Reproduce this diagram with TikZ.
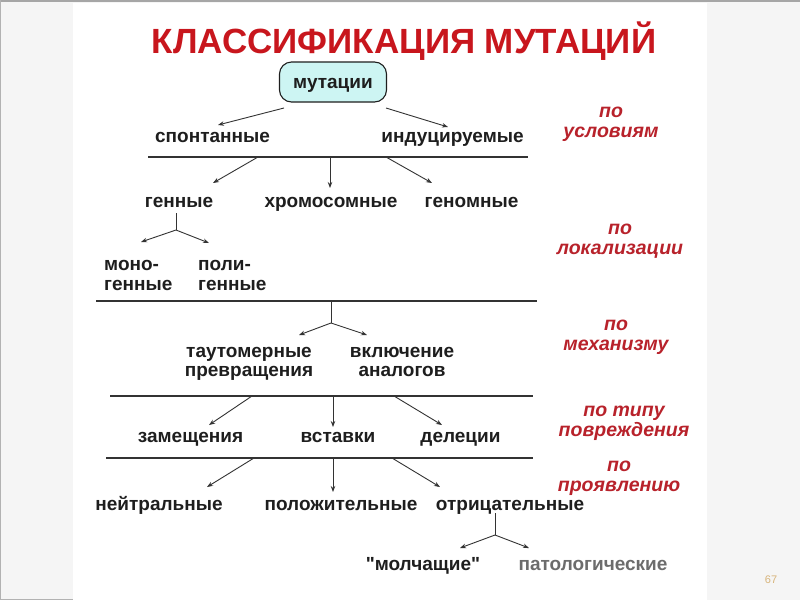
\documentclass[tikz,border=0pt]{standalone}
\usepackage{fontspec}
\setmainfont{Liberation Sans}[Ligatures=TeXOff]
\usetikzlibrary{arrows.meta}
\definecolor{titlered}{HTML}{C8161D}
\definecolor{labred}{HTML}{B8222B}
\definecolor{boxfill}{HTML}{CDF5F3}
\definecolor{ink}{HTML}{1E1E1E}
\definecolor{lineink}{HTML}{333333}
\definecolor{pagegray}{HTML}{F5F5F5}
\definecolor{numcol}{HTML}{D8B57C}
\tikzset{
  txt/.style={font=\bfseries\fontsize{19}{19}\selectfont, text=ink, inner sep=0pt, anchor=base},
  txtl/.style={font=\bfseries\fontsize{19}{20}\selectfont, text=ink, inner sep=0pt, anchor=base west, align=left},
  txtc/.style={font=\bfseries\fontsize{19}{18.5}\selectfont, text=ink, inner sep=0pt, anchor=base, align=center},
  lab/.style={font=\bfseries\itshape\fontsize{19.5}{19.5}\selectfont, text=labred, inner sep=0pt, anchor=base, align=center},
  arr/.style={draw=lineink, line width=0.9pt, -{Stealth[length=6pt,width=4.5pt]}},
  plain/.style={draw=lineink, line width=0.9pt},
  hline/.style={draw=lineink, line width=1.2pt},
  rootbox/.style={draw=ink, line width=1.1pt, fill=boxfill, rounded corners=12pt, minimum width=107pt, minimum height=40pt, inner sep=0pt, text depth=0pt, font=\bfseries\fontsize{19}{19}\selectfont, text=ink}
}
\begin{document}
\begin{tikzpicture}[x=1pt,y=-1pt]
\useasboundingbox (0,0) rectangle (800,600);
% background
\fill[pagegray] (0,0) rectangle (800,600);
\fill[white] (73,3) rectangle (707,600);
\draw[gray!70, line width=1.5pt] (0,1) -- (800,1);
\draw[gray!60, line width=1pt] (0.5,0) -- (0.5,600);
\draw[gray!60, line width=1pt] (0,599.5) -- (73,599.5);

% title
\node[font=\bfseries\fontsize{35}{38}\selectfont, text=titlered, inner sep=0pt, anchor=base] (title) at (404,53) {КЛАССИФИКАЦИЯ МУТАЦИЙ};

% root
\node[rootbox] (mut) at (333,82) {\raisebox{-2.5pt}{мутации}};

% level 1
\node[txt] (spont) at (212.5,142) {спонтанные};
\node[txt] (indu) at (452.5,142) {индуцируемые};
\coordinate (m1s) at (284,108); \coordinate (m1e) at (218,125);
\coordinate (m2s) at (386,108); \coordinate (m2e) at (448,127);
\draw[arr] (m1s) -- (m1e);
\draw[arr] (m2s) -- (m2e);

% line 1
\coordinate (L1a) at (148,157); \coordinate (L1b) at (528,157);
\draw[hline] (L1a) -- (L1b);
\coordinate (a1s) at (258,157); \coordinate (a1e) at (213,183);
\coordinate (a2s) at (330,157); \coordinate (a2e) at (330,188);
\coordinate (a3s) at (386,157); \coordinate (a3e) at (432,183);
\draw[arr] (a1s) -- (a1e);
\draw[arr] (a2s) -- (a2e);
\draw[arr] (a3s) -- (a3e);

\node[txt] (gen) at (179,207) {генные};
\node[txt] (chrom) at (331,207) {хромосомные};
\node[txt] (genom) at (471.5,207) {геномные};

% split under генные
\coordinate (g0) at (176,213); \coordinate (g1) at (176,230);
\coordinate (g1e) at (141,242); \coordinate (g2e) at (209,243);
\draw[plain] (g0) -- (g1);
\draw[arr] (g1) -- (g1e);
\draw[arr] (g1) -- (g2e);
\node[txtl] (mono) at (104,290) {моно-\\генные};
\node[txtl] (poly) at (198,290) {поли-\\генные};

% line 2
\coordinate (L2a) at (96,301); \coordinate (L2b) at (537,301);
\draw[hline] (L2a) -- (L2b);
\coordinate (s0) at (331,301); \coordinate (s1) at (331,323);
\coordinate (s1e) at (299,335); \coordinate (s2e) at (367,335);
\draw[plain] (s0) -- (s1);
\draw[arr] (s1) -- (s1e);
\draw[arr] (s1) -- (s2e);
\node[txtc] (taut) at (249,376) {таутомерные\\превращения};
\node[txtc] (vkl) at (402,376) {включение\\аналогов};

% line 3
\coordinate (L3a) at (110,396); \coordinate (L3b) at (533,396);
\draw[hline] (L3a) -- (L3b);
\coordinate (b1s) at (252,396); \coordinate (b1e) at (209,425);
\coordinate (b2s) at (333,396); \coordinate (b2e) at (333,427);
\coordinate (b3s) at (394,396); \coordinate (b3e) at (442,425);
\draw[arr] (b1s) -- (b1e);
\draw[arr] (b2s) -- (b2e);
\draw[arr] (b3s) -- (b3e);
\node[txt] (zam) at (190.5,442) {замещения};
\node[txt] (vst) at (338,442) {вставки};
\node[txt] (del) at (460.5,442) {делеции};

% line 4
\coordinate (L4a) at (106,458); \coordinate (L4b) at (533,458);
\draw[hline] (L4a) -- (L4b);
\coordinate (c1s) at (254,458); \coordinate (c1e) at (207,487);
\coordinate (c2s) at (333,458); \coordinate (c2e) at (333,492);
\coordinate (c3s) at (392,458); \coordinate (c3e) at (440,487);
\draw[arr] (c1s) -- (c1e);
\draw[arr] (c2s) -- (c2e);
\draw[arr] (c3s) -- (c3e);
\node[txt] (neit) at (159,510) {нейтральные};
\node[txt] (pol) at (341,510) {положительные};
\node[txt] (otr) at (510,510) {отрицательные};

% split under отрицательные
\coordinate (o0) at (495,513); \coordinate (o1) at (495,535);
\coordinate (o1e) at (460,548); \coordinate (o2e) at (529,548);
\draw[plain] (o0) -- (o1);
\draw[arr] (o1) -- (o1e);
\draw[arr] (o1) -- (o2e);
\node[txt] (molch) at (423,570) {"молчащие"};
\node[txt, text=gray!85!black] (patol) at (593,570) {патологические};

% red labels
\node[lab] (r1) at (611,137) {по\\условиям};
\node[lab] (r2) at (620,254) {по\\локализации};
\node[lab] (r3) at (616,350) {по\\механизму};
\node[lab] (r4) at (624,436) {по типу\\повреждения};
\node[lab] (r5) at (619,491) {по\\проявлению};

% page number
\node[font=\fontsize{11}{12}\selectfont, text=numcol, inner sep=0pt, anchor=base] (pnum) at (771,583) {67};
\end{tikzpicture}
\end{document}
